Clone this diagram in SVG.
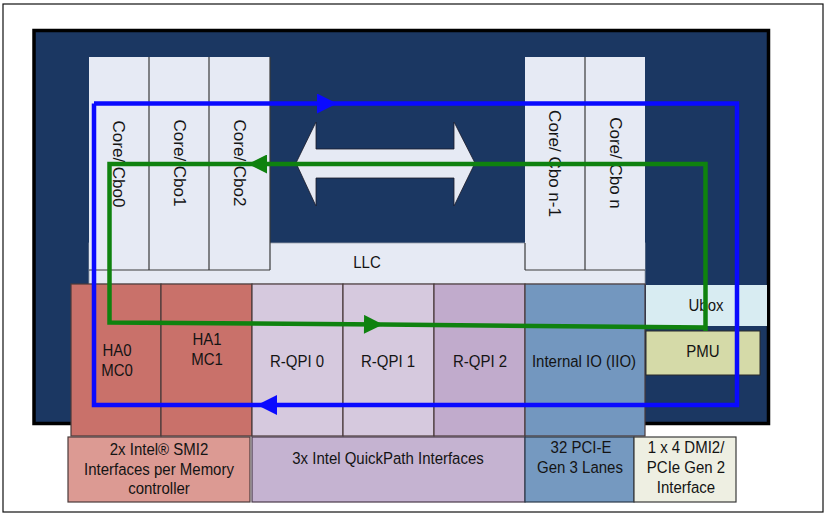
<svg xmlns="http://www.w3.org/2000/svg" width="828" height="517" viewBox="0 0 828 517">
<defs>
<style>
.t{font-family:"Liberation Sans",Arial,sans-serif;font-size:15px;fill:#141414;text-anchor:middle}
.v{font-family:"Liberation Sans",Arial,sans-serif;font-size:17px;fill:#141414;text-anchor:middle}
.core{fill:#e6eaf4}
.sep{stroke:#3a3a3a;stroke-width:1.2;fill:none}
.cell{stroke:#4a3a3a;stroke-width:1.2}
.ha{fill:#c9716a}
.qpi{fill:#d6c9de}
.qpi2{fill:#c1abcc}
.iio{fill:#7397bf}
.blue{stroke:#0a0aff;stroke-width:4.5;fill:none}
.green{stroke:#0f820f;stroke-width:4.5;fill:none}
</style>
<marker id="ab" viewBox="0 0 20 20" refX="20" refY="10" markerWidth="21" markerHeight="20" markerUnits="userSpaceOnUse" orient="auto"><path d="M0,0 L20,10 L0,20 z" fill="#0a0aff"/></marker>
<marker id="ag" viewBox="0 0 20 20" refX="20" refY="10" markerWidth="20" markerHeight="19" markerUnits="userSpaceOnUse" orient="auto"><path d="M0,0 L20,10 L0,20 z" fill="#0f820f"/></marker>
</defs>
<rect x="3" y="4" width="820" height="508" fill="#fff" stroke="#111" stroke-width="1.2"/>
<g id="die"><rect x="34" y="30.5" width="734.5" height="393" fill="#1b3762" stroke="#000" stroke-width="3.5"/></g>
<g id="llc"><rect x="89" y="243" width="556" height="41" class="core" stroke="#9aa0aa" stroke-width="0.8"/><text class="t" transform="matrix(1 0 0 1.12 367 268)">LLC</text></g>
<g id="cores-left">
<rect x="89" y="57" width="181" height="213" class="core"/>
<path class="sep" d="M149,57 V270 M209,57 V270 M89,270 H270 M270,57 V270"/>
<text class="v" transform="translate(113,164) rotate(90)">Core/ Cbo0</text>
<text class="v" transform="translate(174,163) rotate(90)">Core/ Cbo1</text>
<text class="v" transform="translate(234,163) rotate(90)">Core/ Cbo2</text>
</g>
<g id="cores-right">
<rect x="525" y="57" width="120" height="213" class="core"/>
<path class="sep" d="M585,57 V270 M525,270 H645 M525,243 V270"/>
<text class="v" transform="translate(549,163.5) rotate(90)">Core/ Cbo n-1</text>
<text class="v" transform="translate(610,163) rotate(90)">Core/ Cbo n</text>
</g>
<g id="ring-arrow"><polygon points="296,163 316,122 316,149 454,149 454,122 475,163 454,206 454,178 316,178 316,206" fill="#e6eaf4" stroke="#1a1a2a" stroke-width="0.8"/></g>
<g id="ha0"><rect x="71" y="284" width="90" height="152" class="ha cell"/><text class="t" transform="matrix(1 0 0 1.12 117 356)">HA0</text><text class="t" transform="matrix(1 0 0 1.12 117 376)">MC0</text></g>
<g id="ha1"><rect x="161" y="284" width="91" height="152" class="ha cell"/><text class="t" transform="matrix(1 0 0 1.12 207 345)">HA1</text><text class="t" transform="matrix(1 0 0 1.12 207 365)">MC1</text></g>
<g id="rqpi0"><rect x="252" y="284" width="91" height="152" class="qpi cell"/><text class="t" transform="matrix(1 0 0 1.12 297 367)">R-QPI 0</text></g>
<g id="rqpi1"><rect x="343" y="284" width="91" height="152" class="qpi cell"/><text class="t" transform="matrix(1 0 0 1.12 388 367)">R-QPI 1</text></g>
<g id="rqpi2"><rect x="434" y="284" width="91" height="152" class="qpi2 cell"/><text class="t" transform="matrix(1 0 0 1.12 480 367)">R-QPI 2</text></g>
<g id="iio"><rect x="525" y="284" width="120" height="152" class="iio cell"/><text class="t" transform="matrix(1 0 0 1.12 584 367)">Internal IO (IIO)</text></g>
<g id="ubox"><rect x="646" y="285" width="121" height="41" fill="#d8ecf2"/><text class="t" transform="matrix(1 0 0 1.12 706 311)">Ubox</text></g>
<g id="pmu"><rect x="646" y="331" width="114" height="44" fill="#d5daa8" stroke="#2a2a2a" stroke-width="1"/><text class="t" transform="matrix(1 0 0 1.12 703 357)">PMU</text></g>
<g id="smi2"><rect x="68" y="437" width="182" height="65" fill="#dc9a93" stroke="#4a3a3a" stroke-width="1.2"/><text class="t" transform="matrix(1 0 0 1.12 159 455)">2x Intel®  SMI2</text><text class="t" transform="matrix(1 0 0 1.12 159 475)">Interfaces per Memory</text><text class="t" transform="matrix(1 0 0 1.12 159 494)">controller</text></g>
<g id="qpi-if"><rect x="252" y="437" width="273" height="65" fill="#c5b3d1" stroke="#4a3a4a" stroke-width="1.2"/><text class="t" transform="matrix(1 0 0 1.12 388 464)">3x Intel QuickPath Interfaces</text></g>
<g id="pcie"><rect x="525" y="437" width="109" height="65" fill="#7599c0" stroke="#2a3a4a" stroke-width="1.2"/><text class="t" transform="matrix(1 0 0 1.12 581 453)">32 PCI-E</text><text class="t" transform="matrix(1 0 0 1.12 580 473)">Gen 3 Lanes</text></g>
<g id="dmi"><rect x="634" y="437" width="102" height="65" fill="#eeefe2" stroke="#3a3a3a" stroke-width="1.2"/><text class="t" transform="matrix(1 0 0 1.12 686 453)">1 x 4 DMI2/</text><text class="t" transform="matrix(1 0 0 1.12 686 473)">PCIe Gen 2</text><text class="t" transform="matrix(1 0 0 1.12 686 493)">Interface</text></g>
<g id="connectors">
<path class="blue" d="M94,103.5 H337" marker-end="url(#ab)"/>
<path class="blue" d="M337,103.5 H737 V405 H257" marker-end="url(#ab)"/>
<path class="blue" d="M257,405 H94 V103.5"/>
<path class="green" d="M705.5,331 V164 H248" marker-end="url(#ag)"/>
<path class="green" d="M248,164 H109.5 V322.5 L383,324.5" marker-end="url(#ag)"/>
<path class="green" d="M383,324.5 L705.5,327.5"/>
</g>
</svg>
